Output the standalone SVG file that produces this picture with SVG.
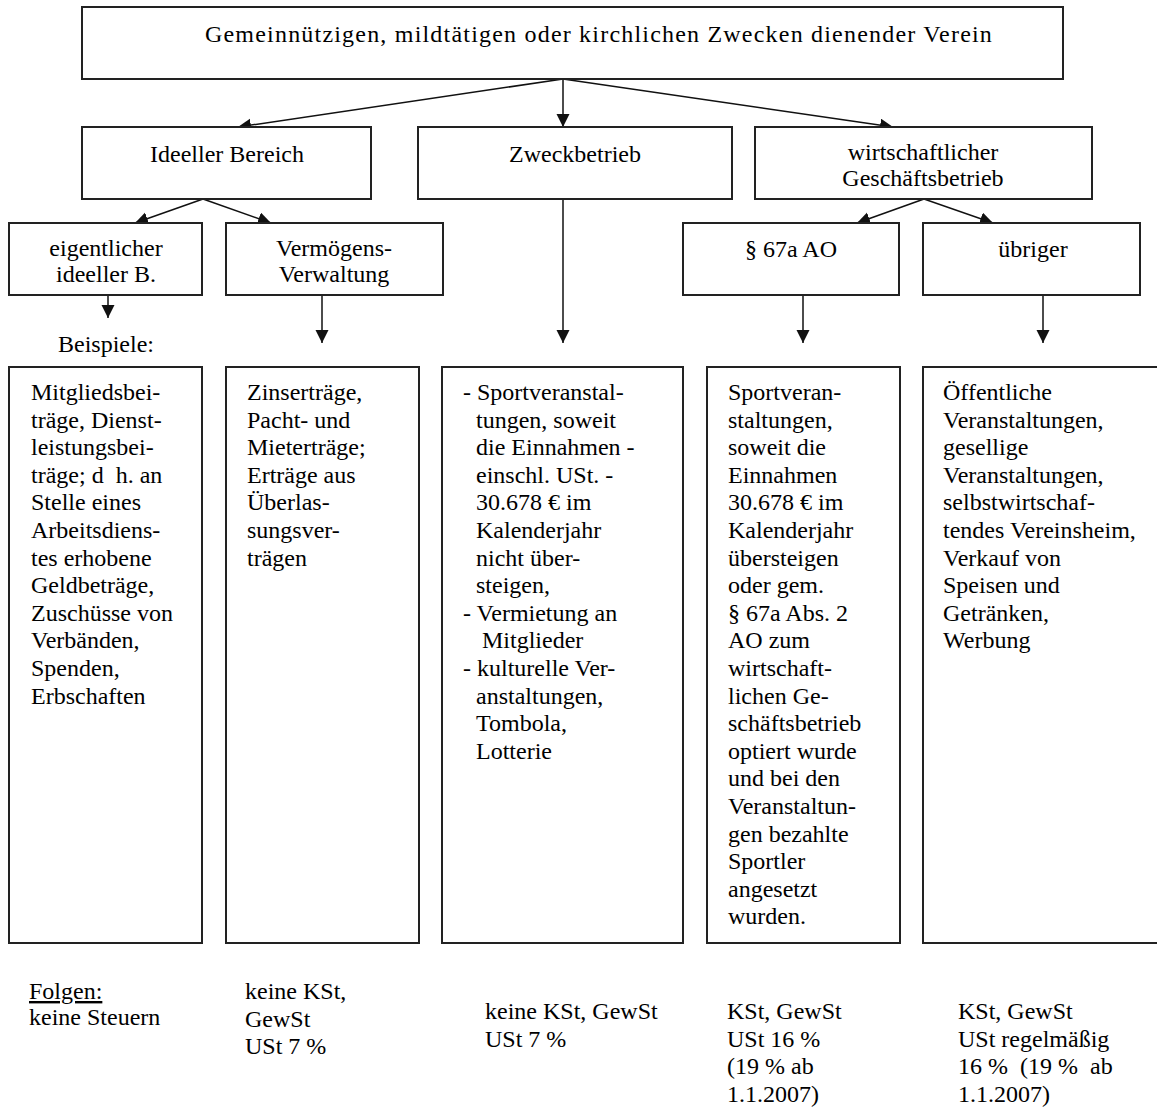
<svg xmlns="http://www.w3.org/2000/svg" width="1157" height="1113" viewBox="0 0 1157 1113">
<style>
.box{fill:#fff;stroke:#222;stroke-width:2}
.t{font-family:"Liberation Serif","Times New Roman",serif;font-size:24px;fill:#000}
.c{text-anchor:middle}
.conn{stroke:#111;stroke-width:1.5;fill:none;marker-end:url(#ah)}
.u{text-decoration:underline}
</style>
<defs>
<marker id="ah" markerUnits="userSpaceOnUse" markerWidth="14" markerHeight="14" refX="13" refY="6.5" orient="auto"><path d="M0,0 L13,6.5 L0,13 z" fill="#111"/></marker>
</defs>
<rect width="1157" height="1113" fill="#fff"/>
<g id="connectors">
<line class="conn" x1="563" y1="79" x2="238" y2="127"/>
<line class="conn" x1="563" y1="79" x2="563" y2="127"/>
<line class="conn" x1="563" y1="79" x2="893" y2="127"/>
<line class="conn" x1="203" y1="199" x2="135" y2="223"/>
<line class="conn" x1="203" y1="199" x2="271" y2="223"/>
<line class="conn" x1="924" y1="199" x2="857" y2="223"/>
<line class="conn" x1="924" y1="199" x2="993" y2="223"/>
<line class="conn" x1="108" y1="295" x2="108" y2="318"/>
<line class="conn" x1="322" y1="295" x2="322" y2="343"/>
<line class="conn" x1="563" y1="199" x2="563" y2="343"/>
<line class="conn" x1="803" y1="295" x2="803" y2="343"/>
<line class="conn" x1="1043" y1="295" x2="1043" y2="343"/>
</g>
<g id="verein">
<rect class="box" x="82" y="7" width="981" height="72"/>
<text class="t c" x="599" y="42" letter-spacing="1.2">Gemeinnützigen, mildtätigen oder kirchlichen Zwecken dienender Verein</text>
</g>
<g id="ideeller">
<rect class="box" x="82" y="127" width="289" height="72"/>
<text class="t c" x="227" y="162">Ideeller Bereich</text>
</g>
<g id="zweckbetrieb">
<rect class="box" x="418" y="127" width="314" height="72"/>
<text class="t c" x="575" y="162">Zweckbetrieb</text>
</g>
<g id="wirtschaftlich">
<rect class="box" x="755" y="127" width="337" height="72"/>
<text class="t c" x="923" y="160">wirtschaftlicher</text>
<text class="t c" x="923" y="186">Geschäftsbetrieb</text>
</g>
<g id="eigentlich">
<rect class="box" x="9" y="223" width="193" height="72"/>
<text class="t c" x="106" y="256">eigentlicher</text>
<text class="t c" x="106" y="282">ideeller B.</text>
</g>
<g id="vermoegen">
<rect class="box" x="226" y="223" width="217" height="72"/>
<text class="t c" x="334" y="256">Vermögens-</text>
<text class="t c" x="334" y="282">Verwaltung</text>
</g>
<g id="p67a">
<rect class="box" x="683" y="223" width="216" height="72"/>
<text class="t c" x="791" y="257">§ 67a AO</text>
</g>
<g id="uebriger">
<rect class="box" x="923" y="223" width="217" height="72"/>
<text class="t c" x="1033" y="257">übriger</text>
</g>
<g id="beispiele">
<text class="t" x="58" y="352">Beispiele:</text>
</g>
<g id="box-ideell">
<rect class="box" x="9" y="367" width="193" height="576"/>
<text class="t" x="31" y="400">Mitgliedsbei-</text>
<text class="t" x="31" y="427.6">träge, Dienst-</text>
<text class="t" x="31" y="455.2">leistungsbei-</text>
<text class="t" x="31" y="482.8" xml:space="preserve">träge; d  h. an</text>
<text class="t" x="31" y="510.4">Stelle eines</text>
<text class="t" x="31" y="538">Arbeitsdiens-</text>
<text class="t" x="31" y="565.6">tes erhobene</text>
<text class="t" x="31" y="593.2">Geldbeträge,</text>
<text class="t" x="31" y="620.8">Zuschüsse von</text>
<text class="t" x="31" y="648.4">Verbänden,</text>
<text class="t" x="31" y="676">Spenden,</text>
<text class="t" x="31" y="703.6">Erbschaften</text>
</g>
<g id="box-vermoegen">
<rect class="box" x="226" y="367" width="193" height="576"/>
<text class="t" x="247" y="400">Zinserträge,</text>
<text class="t" x="247" y="427.6">Pacht- und</text>
<text class="t" x="247" y="455.2">Mieterträge;</text>
<text class="t" x="247" y="482.8">Erträge aus</text>
<text class="t" x="247" y="510.4">Überlas-</text>
<text class="t" x="247" y="538">sungsver-</text>
<text class="t" x="247" y="565.6">trägen</text>
</g>
<g id="box-zweck">
<rect class="box" x="442" y="367" width="241" height="576"/>
<text class="t" x="463" y="400">- Sportveranstal-</text>
<text class="t" x="476" y="427.6">tungen, soweit</text>
<text class="t" x="476" y="455.2">die Einnahmen -</text>
<text class="t" x="476" y="482.8">einschl. USt. -</text>
<text class="t" x="476" y="510.4">30.678 € im</text>
<text class="t" x="476" y="538">Kalenderjahr</text>
<text class="t" x="476" y="565.6">nicht über-</text>
<text class="t" x="476" y="593.2">steigen,</text>
<text class="t" x="463" y="620.8">- Vermietung an</text>
<text class="t" x="482" y="648.4">Mitglieder</text>
<text class="t" x="463" y="676">- kulturelle Ver-</text>
<text class="t" x="476" y="703.6">anstaltungen,</text>
<text class="t" x="476" y="731.2">Tombola,</text>
<text class="t" x="476" y="758.8">Lotterie</text>
</g>
<g id="box-67a">
<rect class="box" x="707" y="367" width="193" height="576"/>
<text class="t" x="728" y="400">Sportveran-</text>
<text class="t" x="728" y="427.6">staltungen,</text>
<text class="t" x="728" y="455.2">soweit die</text>
<text class="t" x="728" y="482.8">Einnahmen</text>
<text class="t" x="728" y="510.4">30.678 € im</text>
<text class="t" x="728" y="538">Kalenderjahr</text>
<text class="t" x="728" y="565.6">übersteigen</text>
<text class="t" x="728" y="593.2">oder gem.</text>
<text class="t" x="728" y="620.8">§ 67a Abs. 2</text>
<text class="t" x="728" y="648.4">AO zum</text>
<text class="t" x="728" y="676">wirtschaft-</text>
<text class="t" x="728" y="703.6">lichen Ge-</text>
<text class="t" x="728" y="731.2">schäftsbetrieb</text>
<text class="t" x="728" y="758.8">optiert wurde</text>
<text class="t" x="728" y="786.4">und bei den</text>
<text class="t" x="728" y="814">Veranstaltun-</text>
<text class="t" x="728" y="841.6">gen bezahlte</text>
<text class="t" x="728" y="869.2">Sportler</text>
<text class="t" x="728" y="896.8">angesetzt</text>
<text class="t" x="728" y="924.4">wurden.</text>
</g>
<g id="box-uebriger">
<rect class="box" x="923" y="367" width="240" height="576"/>
<text class="t" x="943" y="400">Öffentliche</text>
<text class="t" x="943" y="427.6">Veranstaltungen,</text>
<text class="t" x="943" y="455.2">gesellige</text>
<text class="t" x="943" y="482.8">Veranstaltungen,</text>
<text class="t" x="943" y="510.4">selbstwirtschaf-</text>
<text class="t" x="943" y="538">tendes Vereinsheim,</text>
<text class="t" x="943" y="565.6">Verkauf von</text>
<text class="t" x="943" y="593.2">Speisen und</text>
<text class="t" x="943" y="620.8">Getränken,</text>
<text class="t" x="943" y="648.4">Werbung</text>
</g>
<g id="folgen">
<text class="t u" x="29" y="999">Folgen:</text>
<text class="t" x="29" y="1025">keine Steuern</text>
<text class="t" x="245" y="999">keine KSt,</text>
<text class="t" x="245" y="1026.6">GewSt</text>
<text class="t" x="245" y="1054.2">USt 7 %</text>
<text class="t" x="485" y="1019">keine KSt, GewSt</text>
<text class="t" x="485" y="1046.6">USt 7 %</text>
<text class="t" x="727" y="1019">KSt, GewSt</text>
<text class="t" x="727" y="1046.6">USt 16 %</text>
<text class="t" x="727" y="1074.2">(19 % ab</text>
<text class="t" x="727" y="1101.8">1.1.2007)</text>
<text class="t" x="958" y="1019">KSt, GewSt</text>
<text class="t" x="958" y="1046.6">USt regelmäßig</text>
<text class="t" x="958" y="1074.2" xml:space="preserve">16 %  (19 %  ab</text>
<text class="t" x="958" y="1101.8">1.1.2007)</text>
</g>
</svg>
